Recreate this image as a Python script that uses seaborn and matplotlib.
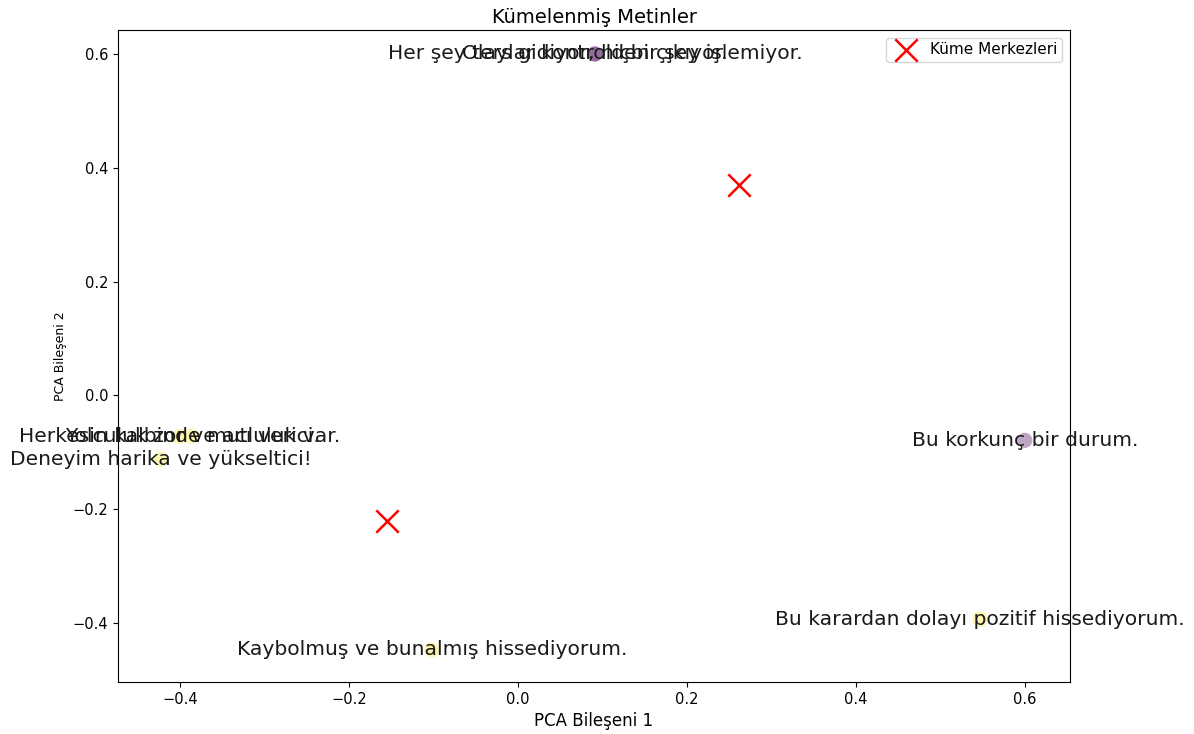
import seaborn as sns
import matplotlib.pyplot as plt
import pandas as pd

# --- Data ---
texts = [
    "Olaylar kontrolden çıkıyor.",
    "Her şey ters gidiyor, hiçbir şey işlemiyor.",
    "Bu korkunç bir durum.",
    "Herkesin kalbinde mutluluk var.",
    "Yolculuk zor ve acı verici.",
    "Deneyim harika ve yükseltici!",
    "Bu karardan dolayı pozitif hissediyorum.",
    "Kaybolmuş ve bunalmış hissediyorum.",
]
pc1 = [0.091, 0.091, 0.600, -0.401, -0.386, -0.423, 0.547, -0.102]
pc2 = [0.600, 0.600, -0.079, -0.072, -0.072, -0.112, -0.393, -0.447]
clusters = [0, 0, 0, 1, 1, 1, 1, 1]

center_x = [0.261, -0.155]
center_y = [0.370, -0.221]

df = pd.DataFrame({'PC1': pc1, 'PC2': pc2, 'Küme': clusters, 'Metin': texts})
centers = pd.DataFrame({'PC1': center_x, 'PC2': center_y})

# viridis end points, as matplotlib's scatter(c=labels) would give for 2 clusters
cluster_colors = {0: '#440154', 1: '#fde725'}

# --- Plot ---
fig = plt.figure(figsize=(11.94, 7.34), dpi=100)
ax = fig.add_axes([0.099, 0.071, 0.797, 0.888])

sns.scatterplot(data=df, x='PC1', y='PC2', hue='Küme', palette=cluster_colors,
                s=120, alpha=0.35, edgecolor='none', legend=False, ax=ax)
sns.scatterplot(data=centers, x='PC1', y='PC2', color='red', marker='x',
                s=260, linewidth=1.8, label='Küme Merkezleri', ax=ax)

# labels sit right on their points (they overlap in the original too)
for _, row in df.iterrows():
    ax.text(row['PC1'], row['PC2'], row['Metin'], fontsize=14.6,
            color='#1a1a1a', ha='center', va='center')

ax.set_xlim(-0.4735, 0.6533)
ax.set_ylim(-0.5035, 0.642)
ax.set_title('Kümelenmiş Metinler', fontsize=14, pad=5)
ax.set_xlabel('PCA Bileşeni 1', fontsize=12)
ax.set_ylabel('PCA Bileşeni 2', fontsize=9)
ax.tick_params(labelsize=10.5)
ax.legend(loc='upper right', fontsize=11, borderpad=0.3, handletextpad=0.6)

plt.savefig('out.png', dpi=100)
